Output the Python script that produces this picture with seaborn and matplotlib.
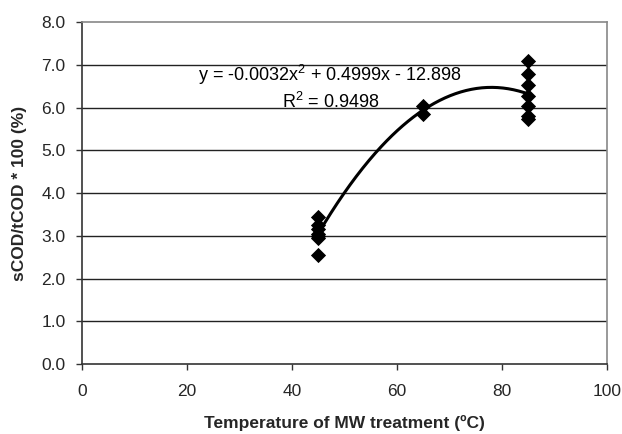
import numpy as np
import pandas as pd
import matplotlib
matplotlib.use("Agg")
import matplotlib.pyplot as plt
import seaborn as sns

# Data
temp_45 = [45, 45, 45, 45, 45, 45, 45]
vals_45 = [3.45, 3.25, 3.15, 3.05, 3.00, 2.95, 2.55]
temp_65 = [65, 65]
vals_65 = [6.03, 5.86]
temp_85 = [85, 85, 85, 85, 85, 85, 85]
vals_85 = [7.08, 6.79, 6.52, 6.27, 6.03, 5.80, 5.74]

x_ticks = [0, 20, 40, 60, 80, 100]
y_ticks = [0.0, 1.0, 2.0, 3.0, 4.0, 5.0, 6.0, 7.0, 8.0]
equation_text = "y = -0.0032x$^2$ + 0.4999x - 12.898\nR$^2$ = 0.9498"

df = pd.DataFrame({
    "temp": temp_45 + temp_65 + temp_85,
    "ratio": vals_45 + vals_65 + vals_85,
})

sns.set_theme(style="white")
plt.rcParams["font.family"] = ["Liberation Sans", "DejaVu Sans"]
plt.rcParams["mathtext.fontset"] = "custom"
plt.rcParams["mathtext.rm"] = "Liberation Sans"

fig = plt.figure(figsize=(6.22, 4.34), dpi=100)
ax = fig.add_axes([0.132, 0.161, 0.844, 0.788])

# horizontal gridlines
for yv in y_ticks[1:-1]:
    ax.axhline(yv, color="#222222", lw=1.0, zorder=0)

# polynomial trendline (order 2) from data
coef = np.polyfit(df["temp"], df["ratio"], 2)
xs = np.linspace(df["temp"].min(), df["temp"].max(), 200)
trend = pd.DataFrame({"temp": xs, "ratio": np.polyval(coef, xs)})
sns.lineplot(data=trend, x="temp", y="ratio", ax=ax, color="black", lw=2.2, zorder=2)

sns.scatterplot(data=df, x="temp", y="ratio", ax=ax, marker="D", s=60,
                color="black", edgecolor="black", linewidth=0, zorder=3)

ax.text(47.3, 6.47, equation_text, ha="center", va="center", fontsize=13,
        multialignment="center", linespacing=1.3, color="black")

ax.set_xlim(0, 100)
ax.set_ylim(0, 8)
ax.set_xticks(x_ticks)
ax.set_xticklabels([str(v) for v in x_ticks], fontsize=12.5)
ax.set_yticks(y_ticks)
ax.set_yticklabels([f"{v:.1f}" for v in y_ticks], fontsize=12.5)
ax.tick_params(axis="both", direction="out", length=4, width=1, color="#333333",
               bottom=True, left=True)
ax.tick_params(axis="y", pad=8)
ax.tick_params(axis="x", pad=10)

for side in ["left", "bottom"]:
    ax.spines[side].set_color("#333333")
    ax.spines[side].set_linewidth(1.2)
for side in ["top", "right"]:
    ax.spines[side].set_color("#888888")
    ax.spines[side].set_linewidth(1.2)

ax.set_xlabel("Temperature of MW treatment (ºC)", fontsize=12.5, fontweight="bold", labelpad=12)
ax.set_ylabel("sCOD/tCOD * 100 (%)", fontsize=12.5, fontweight="bold", labelpad=10)

fig.savefig("out.png", dpi=100, facecolor="white")
